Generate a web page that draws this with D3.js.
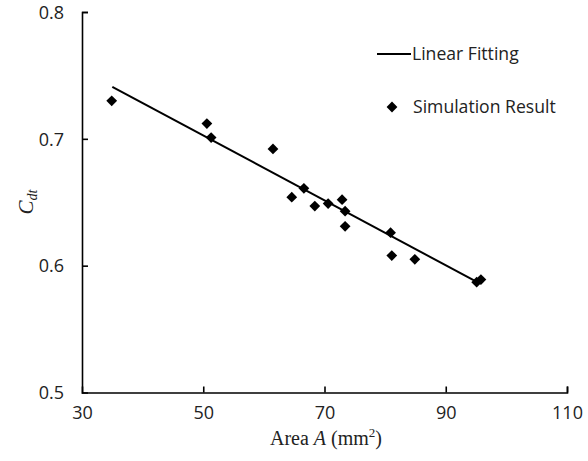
<!DOCTYPE html>
<html>
<head>
<meta charset="utf-8">
<script src="https://cdn.jsdelivr.net/npm/d3@7"></script>
<style>
  body { margin: 0; background: #fff; }
  .tick text { font-family: "Open Sans", sans-serif; font-size: 18px; fill: #222; }
</style>
</head>
<body>
<svg id="chart" width="588" height="461"></svg>
<script>
// simulation result points (area mm^2, Cdt)
const areaValues = [34.9, 50.6, 51.3, 61.5, 64.6, 66.6, 68.4, 70.6, 72.9, 73.4, 73.4, 80.9, 81.1, 84.9, 95.1, 95.8]
const cdtValues = [0.730, 0.712, 0.701, 0.692, 0.654, 0.661, 0.647, 0.649, 0.652, 0.643, 0.631, 0.626, 0.608, 0.605, 0.587, 0.589]
// linear fitting endpoints
const fitArea = [35, 95.2]
const fitCdt = [0.741, 0.587]
const xTicks = [30, 50, 70, 90, 110]
const yTicks = [0.5, 0.6, 0.7, 0.8]
const legendLabels = ["Linear Fitting", "Simulation Result"]

const svg = d3.select("#chart")
const margin = { left: 82, right: 21, top: 12, bottom: 68.5 }
const W = 588, H = 461

const x = d3.scaleLinear().domain([30, 110]).range([margin.left, W - margin.right])
const y = d3.scaleLinear().domain([0.5, 0.8]).range([H - margin.bottom, margin.top])

const xAxis = svg.append("g")
  .attr("transform", `translate(0,${y(0.5)})`)
  .call(d3.axisBottom(x).tickValues(xTicks).tickSizeInner(-6).tickSizeOuter(-6).tickPadding(14))
const yAxis = svg.append("g")
  .attr("transform", `translate(${x(30)},0)`)
  .call(d3.axisLeft(y).tickValues(yTicks).tickFormat(d3.format(".1f")).tickSizeInner(-6).tickSizeOuter(-6).tickPadding(18))

svg.selectAll(".domain, .tick line").attr("stroke", "#000").attr("stroke-width", 1.6)
yAxis.selectAll(".tick text").attr("dy", "0.35em")
yAxis.selectAll(".tick").filter(d => d === 0.5).select("line").remove()
xAxis.selectAll(".tick").filter(d => d === 30).select("line").remove()

// fit line
const fitData = fitArea.map((a, i) => [a, fitCdt[i]])
svg.append("path")
  .datum(fitData)
  .attr("fill", "none")
  .attr("stroke", "#000")
  .attr("stroke-width", 2)
  .attr("d", d3.line().x(d => x(d[0])).y(d => y(d[1])))

// points
const diamond = d3.symbol().type(d3.symbolDiamond2).size(74)
svg.selectAll("path.pt")
  .data(areaValues.map((a, i) => [a, cdtValues[i]]))
  .join("path")
  .attr("class", "pt")
  .attr("transform", d => `translate(${x(d[0])},${y(d[1])})`)
  .attr("d", diamond)
  .attr("fill", "#000")

// legend
const lg = svg.append("g")
lg.append("line").attr("x1", 377).attr("x2", 411).attr("y1", 54).attr("y2", 54)
  .attr("stroke", "#000").attr("stroke-width", 2)
lg.append("text").attr("x", 412).attr("y", 54).attr("dy", "0.35em").text(legendLabels[0])
lg.append("path").attr("transform", "translate(392,107)").attr("d", diamond).attr("fill", "#000")
lg.append("text").attr("x", 413).attr("y", 107).attr("dy", "0.35em").text(legendLabels[1])
lg.selectAll("text").attr("font-family", "Open Sans, sans-serif").attr("font-size", 17.6).attr("fill", "#222")

// axis titles
const xt = svg.append("text")
  .attr("x", 326).attr("y", 445)
  .attr("text-anchor", "middle")
  .attr("font-family", "Liberation Serif, serif").attr("font-size", 20).attr("fill", "#222")
xt.append("tspan").text("Area ")
xt.append("tspan").attr("font-style", "italic").text("A")
xt.append("tspan").text(" (mm")
xt.append("tspan").attr("font-size", 13).attr("dy", -8).text("2")
xt.append("tspan").attr("dy", 8).text(")")

const yt = svg.append("text")
  .attr("transform", "translate(33,202) rotate(-90)")
  .attr("text-anchor", "middle")
  .attr("font-family", "Liberation Serif, serif").attr("font-size", 21).attr("font-style", "italic").attr("fill", "#222")
yt.append("tspan").text("C")
yt.append("tspan").attr("font-size", 14).attr("dy", 4).text("dt")
</script>
</body>
</html>
